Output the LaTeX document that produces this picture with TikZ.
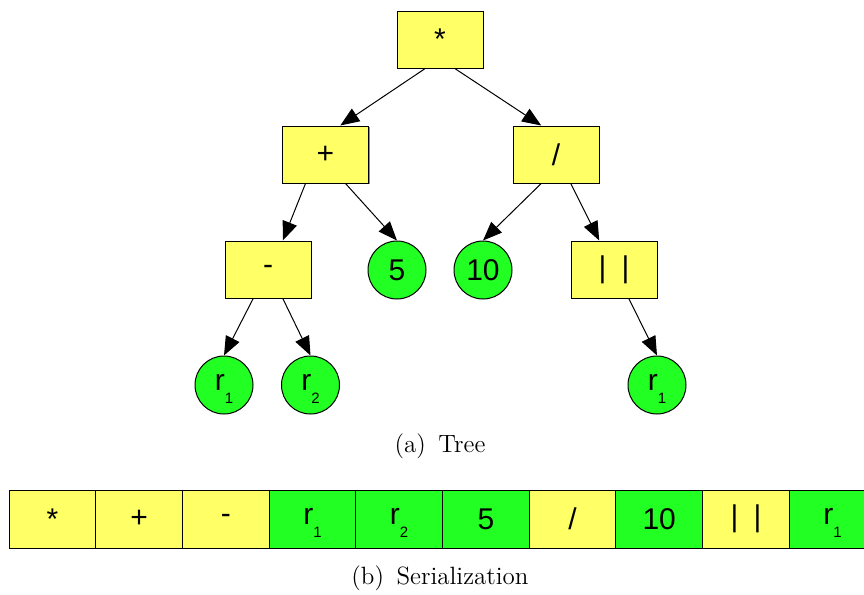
\documentclass[tikz,border=0pt]{standalone}
\usepackage{fontspec}
\newfontfamily\arial{Liberation Sans}
\usetikzlibrary{arrows.meta,calc,shadows}

\definecolor{opyellow}{HTML}{FFFF66}
\definecolor{leafgreen}{HTML}{22FF22}

% register name with a dropped index
\newcommand{\reg}[1]{r\raisebox{-6.5pt}[0pt][3pt]{\fontsize{7.5}{8}\selectfont #1}}
\newcommand{\absbars}{|\hspace{7.6pt}|}

\begin{document}
\begin{tikzpicture}[x=0.5pt,y=-0.5pt,line width=0.5pt,
    lbl/.style={font=\arial\fontsize{15}{17}\selectfont},
    shade/.style={drop shadow={shadow xshift=0.6pt,shadow yshift=-0.6pt,fill=black!45,opacity=1}},
    op/.style={draw, fill=opyellow, shade, lbl, minimum width=43pt, minimum height=28.5pt},
    leaf/.style={circle, draw, fill=leafgreen, lbl, minimum size=29pt, inner sep=0pt},
    cell/.style={draw, shade, lbl, minimum width=43.35pt, minimum height=29pt, inner sep=0pt},
    arr/.style={-{Triangle[length=9.5pt,width=7.5pt]}},
    caption/.style={font=\fontsize{12.5}{15}\selectfont}]
   \clip (0,0) rectangle (864,595);

   % expression tree
   \node[op]   (mul)  at (440,39.5)  {*};
   \node[op]   (plus) at (325.5,154.5) {+};
   \node[op]   (div)  at (556,154.5) {/};
   \node[op]   (sub)  at (268,269.5) {-};
   \node[leaf] (five) at (397,270)   {5};
   \node[leaf] (ten)  at (483,270)   {10};
   \node[op]   (abs)  at (614,269.5) {\absbars};
   \node[leaf] (ra)   at (224,385)   {\reg{1}};
   \node[leaf] (rb)   at (310.5,385) {\reg{2}};
   \node[leaf] (rc)   at (657,385)   {\reg{1}};

   \draw[arr] ($(mul.south west)!.33!(mul.south east)$)   -- ($(plus.north west)!.67!(plus.north east)$);
   \draw[arr] ($(mul.south west)!.67!(mul.south east)$)   -- ($(div.north west)!.33!(div.north east)$);
   \draw[arr] ($(plus.south west)!.27!(plus.south east)$) -- ($(sub.north west)!.67!(sub.north east)$);
   \draw[arr] ($(plus.south west)!.73!(plus.south east)$) -- (five.north);
   \draw[arr] ($(div.south west)!.33!(div.south east)$)   -- (ten.north);
   \draw[arr] ($(div.south west)!.67!(div.south east)$)   -- ($(abs.north west)!.33!(abs.north east)$);
   \draw[arr] ($(sub.south west)!.33!(sub.south east)$)   -- (ra.north);
   \draw[arr] ($(sub.south west)!.67!(sub.south east)$)   -- (rb.north);
   \draw[arr] ($(abs.south west)!.67!(abs.south east)$)   -- (rc.north);

   \node[caption] (capa) at (440,446) {(a)\enspace Tree};

   % prefix order of the same tree
   \foreach \txt/\col [count=\i] in {{*}/opyellow, {+}/opyellow, {-}/opyellow,
        {\reg{1}}/leafgreen, {\reg{2}}/leafgreen, {5}/leafgreen, {/}/opyellow,
        {10}/leafgreen, {\absbars}/opyellow, {\reg{1}}/leafgreen}
     \node[cell, fill=\col] (s\i) at ({52.35+86.7*(\i-1)},519) {\txt};

   \node[caption] (capb) at (440,578) {(b)\enspace Serialization};
\end{tikzpicture}
\end{document}
